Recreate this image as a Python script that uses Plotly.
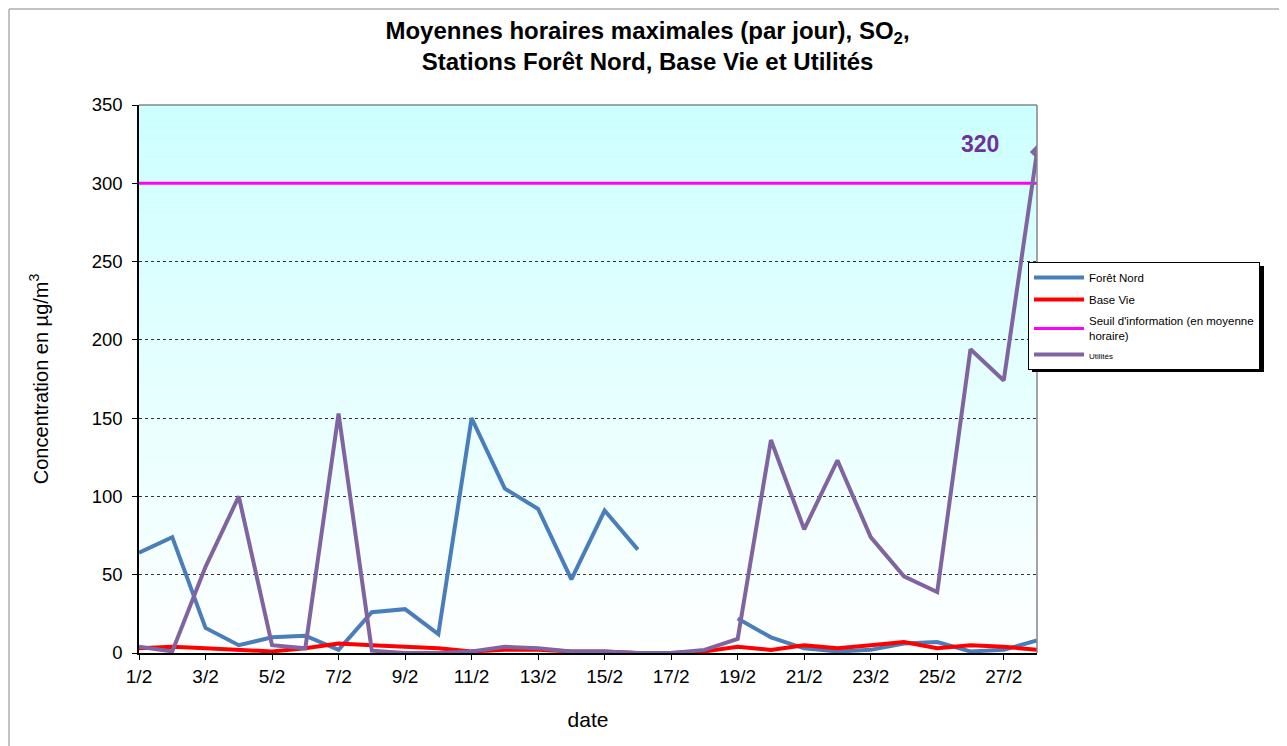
import plotly.graph_objects as go

dates = [f"{d}/2" for d in range(1, 29)]
tick_labels = [f"{d}/2" for d in range(1, 29, 2)]

foret_nord = [64, 74, 16, 5, 10, 11, 2, 26, 28, 12, 150, 105, 92, 47, 91, 66,
              None, None, 22, 10, 3, 1, 2, 6, 7, 1, 2, 8]
base_vie = [3, 4, 3, 2, 1, 3, 6, 5, 4, 3, 1, 2, 2, 1, 1, 0, 0, 1, 4, 2, 5, 3, 5, 7,
            3, 5, 4, 2]
seuil = [300] * 28
utilites = [4, 1, 55, 100, 5, 3, 153, 1.5, 0, 0, 1, 4, 3, 1, 1, 0, 0, 2, 9, 136, 79,
            123, 74, 49, 39, 194, 174, 320]

# the page body adds an 8px offset; work in screen coords and subtract it
OFF = 8
W, H = 1287 - OFF, 746 - OFF
L, R, T, B = 139 - OFF, 1037 - OFF, 105 - OFF, 653 - OFF
pw, ph = R - L, B - T


def px(x):
    return (x - OFF - L) / pw


def py(y):
    return (B - (y - OFF)) / ph


FONT = "Liberation Sans, Arial, sans-serif"

fig = go.Figure()
fig.add_trace(go.Scatter(x=dates, y=foret_nord, name="Forêt Nord", mode="lines",
                         legendgroup="a",
                         line=dict(color="#4A7EBB", width=4), connectgaps=False))
fig.add_trace(go.Scatter(x=dates, y=base_vie, name="Base Vie", mode="lines",
                         legendgroup="b",
                         line=dict(color="#FF0000", width=4)))
fig.add_trace(go.Scatter(x=dates, y=seuil, name="Seuil d'information (en moyenne<br>horaire)",
                         mode="lines", legendgroup="c",
                         line=dict(color="#FF00FF", width=3)))
fig.add_trace(go.Scatter(x=dates, y=utilites,
                         name="<span style='font-size:8px'>Utilités</span>",
                         mode="lines", legendgroup="c",
                         line=dict(color="#8064A2", width=4)))
fig.add_trace(go.Scatter(x=[dates[-1]], y=[utilites[-1]], mode="markers",
                         marker=dict(symbol="diamond", size=11, color="#8064A2"),
                         showlegend=False))

shapes = []
# background gradient
N = 60
for i in range(N):
    f = (i + 0.5) / N
    r = int(204 + (255 - 204) * (1 - f))
    shapes.append(dict(type="rect", xref="paper", yref="paper", x0=0, x1=1,
                       y0=i / N, y1=(i + 1) / N, fillcolor=f"rgb({r},255,255)",
                       line=dict(width=0), layer="below"))
# plot border top/right grey
shapes.append(dict(type="line", xref="paper", yref="paper", x0=0, x1=1, y0=1, y1=1,
                   line=dict(color="#868686", width=1.5)))
shapes.append(dict(type="line", xref="paper", yref="paper", x0=1, x1=1, y0=0, y1=1,
                   line=dict(color="#868686", width=1.5)))
# outer chart border
shapes.append(dict(type="rect", xref="paper", yref="paper", x0=px(OFF + 1), x1=px(1300),
                   y0=py(760), y1=py(OFF + 1), line=dict(color="#868686", width=1)))
# legend shadow
shapes.append(dict(type="rect", xref="paper", yref="paper", x0=px(1032), x1=px(1264),
                   y0=py(372), y1=py(266), fillcolor="black", line=dict(width=0)))

fig.update_layout(
    width=W, height=H,
    margin=dict(l=L, r=W - R, t=T, b=H - B, autoexpand=False),
    paper_bgcolor="white", plot_bgcolor="white",
    font=dict(family=FONT, color="black", size=18),
    title=dict(text="<b>Moyennes horaires maximales (par jour), SO<sub>2</sub>,<br>Stations Forêt Nord, Base Vie et Utilités</b>",
               x=px(588), xanchor="center", y=1 - 31 / H, yanchor="middle",
               font=dict(size=24, family=FONT)),
    shapes=shapes,
    showlegend=True,
    legend=dict(x=px(1028), y=py(262), xanchor="left", yanchor="top",
                bgcolor="white", bordercolor="black", borderwidth=1,
                font=dict(size=11.5, family=FONT), tracegroupgap=3,
                itemwidth=50),
    annotations=[dict(x=dates[-1], y=320, xref="x", yref="y", text="<b>320</b>",
                      showarrow=False, xanchor="right", xshift=-36, yshift=8,
                      font=dict(size=23, color="#7030A0", family=FONT))],
)
fig.update_xaxes(type="category", range=[0, 27], tickvals=tick_labels, ticktext=tick_labels,
                 showline=True, linecolor="black", linewidth=1.5, ticks="outside",
                 ticklen=5, tickcolor="black", showgrid=False,
                 title=dict(text="date", font=dict(size=21), standoff=27),
                 tickfont=dict(size=19))
fig.update_yaxes(range=[0, 350], dtick=50, showline=True, linecolor="black", linewidth=1.5,
                 ticks="outside", ticklen=5, tickcolor="black", showgrid=True,
                 gridcolor="#333333", griddash="dot", gridwidth=1, zeroline=False,
                 ticklabelstandoff=6,
                 title=dict(text="Concentration en µg/m<sup>3</sup>", font=dict(size=20),
                            standoff=38),
                 tickfont=dict(size=18.5))

fig.write_html("out.html")
